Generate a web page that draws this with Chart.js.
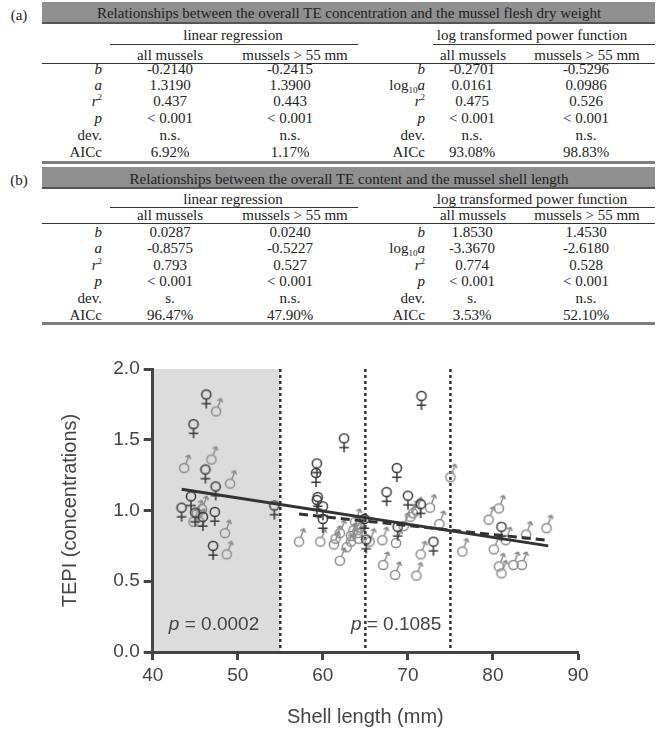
<!DOCTYPE html>
<html>
<head>
<meta charset="utf-8">
<script src="https://cdn.jsdelivr.net/npm/chart.js@4.4.1/dist/chart.umd.min.js"></script>
<style>
html, body { margin: 0; padding: 0; background: #fff; }
body { width: 658px; height: 733px; position: relative; overflow: hidden; }
.t { position: absolute; font-family: "Liberation Serif", "Times New Roman", serif; font-size: 15px; color: #222; white-space: nowrap; line-height: 1; }
.bar { position: absolute; left: 42px; width: 613px; background: #8f8f8f; border-bottom: 2px solid #555; }
.rule { position: absolute; background: #333; height: 1px; }
.thick { position: absolute; left: 42px; width: 613px; height: 3px; background: #7d7d7d; }
sup { font-size: 9px; vertical-align: 6px; line-height: 0; }
sub { font-size: 9px; vertical-align: -3px; line-height: 0; }
#plot { position: absolute; left: 0; top: 330px; width: 658px; height: 403px; }
</style>
</head>
<body>
<div id="tables"></div>
<div id="plot"><canvas id="tepiChart"></canvas></div>
<script>
// ==========================================
// TABLE DATA
// ==========================================

const rowLabelsLinear = ["<i>b</i>", "<i>a</i>", "<i>r</i><sup>2</sup>", "<i>p</i>", "dev.", "AICc"];
const rowLabelsPower = ["<i>b</i>", "log<sub>10</sub><i>a</i>", "<i>r</i><sup>2</sup>", "<i>p</i>", "dev.", "AICc"];
const columnHeaders = ["all mussels", "mussels &gt; 55 mm"];

const fleshLinearAll = ["-0.2140", "1.3190", "0.437", "&lt; 0.001", "n.s.", "6.92%"];
const fleshLinear55 = ["-0.2415", "1.3900", "0.443", "&lt; 0.001", "n.s.", "1.17%"];
const fleshPowerAll = ["-0.2701", "0.0161", "0.475", "&lt; 0.001", "n.s.", "93.08%"];
const fleshPower55 = ["-0.5296", "0.0986", "0.526", "&lt; 0.001", "n.s.", "98.83%"];

const shellLinearAll = ["0.0287", "-0.8575", "0.793", "&lt; 0.001", "s.", "96.47%"];
const shellLinear55 = ["0.0240", "-0.5227", "0.527", "&lt; 0.001", "n.s.", "47.90%"];
const shellPowerAll = ["1.8530", "-3.3670", "0.774", "&lt; 0.001", "s.", "3.53%"];
const shellPower55 = ["1.4530", "-2.6180", "0.528", "&lt; 0.001", "n.s.", "52.10%"];

// ==========================================
// PLOT DATA
// ==========================================

const femaleLength = [46.3, 44.8, 46.2, 47.4, 44.5, 43.4, 45.0, 45.9, 47.3, 47.1, 54.3,
    59.3, 59.2, 62.5, 59.4, 59.3, 60.0, 60.0, 64.9, 65.1,
    71.6, 68.7, 67.5, 70.0, 71.5, 68.8, 73.0, 81.0];
const femaleTepi = [1.82, 1.61, 1.29, 1.17, 1.10, 1.02, 0.985, 0.955, 0.99, 0.75, 1.035,
    1.333, 1.265, 1.51, 1.095, 1.075, 1.03, 0.94, 0.94, 0.795,
    1.81, 1.30, 1.13, 1.105, 1.045, 0.885, 0.78, 0.885];

const maleLength = [47.45, 43.7, 46.9, 49.1, 45.8, 44.8, 45.5, 45.2, 48.5, 48.7,
    57.2, 59.7, 61.3, 61.5, 62.0, 62.0, 62.8, 63.3, 63.3, 63.6, 64.1, 63.8, 64.4, 64.2, 65.5,
    67.0, 67.1, 68.5, 68.6, 69.5, 70.3, 70.6, 71.0, 71.0, 71.5, 72.6, 73.7, 75.0,
    76.4, 79.5, 80.7, 80.1, 81.5, 80.7, 81.0, 82.4, 83.4, 83.9, 86.3];
const maleTepi = [1.70, 1.30, 1.36, 1.19, 1.01, 0.92, 0.92, 0.98, 0.84, 0.69,
    0.78, 0.78, 0.76, 0.80, 0.645, 0.84, 0.74, 0.78, 0.82, 0.86, 0.84, 0.92, 0.88, 0.80, 0.78,
    0.79, 0.615, 0.545, 0.77, 0.89, 0.955, 0.98, 1.0, 0.54, 0.69, 1.02, 0.905, 1.235,
    0.71, 0.935, 1.015, 0.725, 0.79, 0.605, 0.556, 0.615, 0.615, 0.83, 0.875];

const fitAllLength = [43.4, 86.5];
const fitAllTepi = [1.15, 0.75];
const fit55Length = [57.2, 86.3];
const fit55Tepi = [0.975, 0.79];

const xTicks = [40, 50, 60, 70, 80, 90];
const yTicks = [0, 0.5, 1.0, 1.5, 2.0];
const sizeLimits = [55, 65, 75];
const pValueLength = [41.9, 63.3];
const pValueText = ["0.0002", "0.1085"];

// ==========================================
// TABLES
// ==========================================

const tables = document.getElementById("tables");

function place(html, x, y, align) {
    const d = document.createElement("div");
    d.className = "t";
    d.innerHTML = html;
    d.style.left = x + "px";
    d.style.top = y + "px";
    const tx = align === "right" ? "-100%" : (align === "left" ? "0" : "-50%");
    d.style.transform = "translate(" + tx + ",-50%)";
    tables.appendChild(d);
}

function box(cls, x, y, w, h) {
    const d = document.createElement("div");
    d.className = cls;
    if (x !== null) d.style.left = x + "px";
    d.style.top = y + "px";
    if (w !== null) d.style.width = w + "px";
    if (h !== null) d.style.height = h + "px";
    tables.appendChild(d);
}

function buildTable(t) {
    box("bar", null, t.barTop, null, t.barHeight);
    place(t.tag, 19, t.tagY, "center");
    place(t.title, 349, t.titleY, "center");

    place("linear regression", 233, t.groupY, "center");
    place("log transformed power function", 532, t.groupY, "center");
    box("rule", 110, t.groupRule, 248, null);
    box("rule", 433, t.groupRule, 222, null);

    place(columnHeaders[0], 170, t.colY, "center");
    place(columnHeaders[1], 295, t.colY, "center");
    place(columnHeaders[0], 473, t.colY, "center");
    place(columnHeaders[1], 587, t.colY, "center");
    box("rule", 42, t.colRule, 613, null);

    t.rows.forEach(function (y, i) {
        place(rowLabelsLinear[i], 102, y, "right");
        place(t.linAll[i], 170, y, "center");
        place(t.lin55[i], 290, y, "center");
        place(rowLabelsPower[i], 425, y, "right");
        place(t.powAll[i], 472, y, "center");
        place(t.pow55[i], 586, y, "center");
    });

    box("thick", null, t.bottom, null, null);
}

buildTable({
    tag: "(a)", tagY: 15,
    title: "Relationships between the overall TE concentration and the mussel flesh dry weight",
    barTop: 2, barHeight: 20, titleY: 13,
    groupY: 35, groupRule: 44, colY: 55, colRule: 63,
    rows: [68.5, 84.5, 101, 117.5, 134.5, 152],
    bottom: 161,
    linAll: fleshLinearAll, lin55: fleshLinear55, powAll: fleshPowerAll, pow55: fleshPower55
});

buildTable({
    tag: "(b)", tagY: 180,
    title: "Relationships between the overall TE content and the mussel shell length",
    barTop: 167, barHeight: 20, titleY: 178.5,
    groupY: 198.5, groupRule: 206.5, colY: 215, colRule: 223,
    rows: [232, 248, 264.5, 281, 297.5, 315],
    bottom: 322,
    linAll: shellLinearAll, lin55: shellLinear55, powAll: shellPowerAll, pow55: shellPower55
});

// ==========================================
// SYMBOLS
// ==========================================

function makeFemale() {
    const c = document.createElement("canvas");
    c.width = 40; c.height = 40;
    const g = c.getContext("2d");
    g.strokeStyle = "#383838";
    g.lineWidth = 1.5;
    g.beginPath();
    g.arc(20, 20, 4.6, 0, Math.PI * 2);
    g.stroke();
    g.beginPath();
    g.moveTo(20, 24.6); g.lineTo(20, 34);
    g.moveTo(15.3, 29.3); g.lineTo(24.7, 29.3);
    g.stroke();
    return c;
}

function makeMale() {
    const c = document.createElement("canvas");
    c.width = 40; c.height = 40;
    const g = c.getContext("2d");
    g.strokeStyle = "#8c8c8c";
    g.lineWidth = 1.5;
    g.beginPath();
    g.arc(20, 20, 4.6, 0, Math.PI * 2);
    g.stroke();
    const tx = 25, ty = 7;
    const len = Math.hypot(tx - 20, ty - 20);
    const dx = (tx - 20) / len, dy = (ty - 20) / len;
    g.beginPath();
    g.moveTo(20 + dx * 4.6, 20 + dy * 4.6);
    g.lineTo(tx, ty);
    [0.7, -0.7].forEach(function (a) {
        const bx = -dx * Math.cos(a) + dy * Math.sin(a);
        const by = -dy * Math.cos(a) - dx * Math.sin(a);
        g.moveTo(tx, ty);
        g.lineTo(tx + bx * 4.2, ty + by * 4.2);
    });
    g.stroke();
    return c;
}

function toPoints(xs, ys) {
    return xs.map(function (x, i) { return { x: x, y: ys[i] }; });
}

// ==========================================
// ZONES / DIVIDERS / P VALUES
// ==========================================

const zonesPlugin = {
    id: "zones",
    beforeDraw(chart) {
        const { ctx, scales: { x, y } } = chart;
        const l = x.getPixelForValue(40), r = x.getPixelForValue(sizeLimits[0]);
        const t = y.getPixelForValue(2), b = y.getPixelForValue(0);
        ctx.save();
        ctx.fillStyle = "#dcdcdc";
        ctx.fillRect(l, t, r - l, b - t);
        ctx.restore();
    },
    beforeDatasetsDraw(chart) {
        const { ctx, scales: { x, y } } = chart;
        ctx.save();
        ctx.strokeStyle = "#333";
        ctx.lineWidth = 2.5;
        ctx.setLineDash([3, 3]);
        sizeLimits.forEach(function (v) {
            const px = x.getPixelForValue(v);
            ctx.beginPath();
            ctx.moveTo(px, y.getPixelForValue(2));
            ctx.lineTo(px, y.getPixelForValue(0));
            ctx.stroke();
        });
        ctx.setLineDash([]);
        ctx.fillStyle = "#444";
        ctx.textBaseline = "middle";
        pValueLength.forEach(function (v, i) {
            let px = x.getPixelForValue(v);
            const py = y.getPixelForValue(0.19);
            ctx.font = "italic 19px 'Liberation Sans', Arial, sans-serif";
            ctx.fillText("p", px, py);
            px += ctx.measureText("p").width;
            ctx.font = "19px 'Liberation Sans', Arial, sans-serif";
            ctx.fillText(" = " + pValueText[i], px, py);
        });
        ctx.restore();
    }
};

// ==========================================
// CHART
// ==========================================

const axisColor = "#444";
const tickFont = { family: "'Liberation Sans', Arial, sans-serif", size: 19 };
const titleFont = { family: "'Liberation Sans', Arial, sans-serif", size: 20 };

new Chart(document.getElementById("tepiChart"), {
    type: "scatter",
    data: {
        datasets: [
            {
                type: "line",
                data: toPoints(fitAllLength, fitAllTepi),
                borderColor: "#333",
                borderWidth: 3,
                pointRadius: 0,
                fill: false
            },
            {
                type: "line",
                data: toPoints(fit55Length, fit55Tepi),
                borderColor: "#333",
                borderWidth: 3,
                borderDash: [9, 5],
                pointRadius: 0,
                fill: false
            },
            {
                data: toPoints(femaleLength, femaleTepi),
                pointStyle: makeFemale(),
                pointRadius: 6
            },
            {
                data: toPoints(maleLength, maleTepi),
                pointStyle: makeMale(),
                pointRadius: 6
            }
        ]
    },
    options: {
        responsive: true,
        maintainAspectRatio: false,
        animation: false,
        layout: { padding: { left: 0, right: 80, top: 39, bottom: 0 } },
        plugins: { legend: { display: false }, tooltip: { enabled: false } },
        scales: {
            x: {
                type: "linear",
                min: 40,
                max: 90,
                afterBuildTicks: function (scale) {
                    scale.ticks = xTicks.map(function (v) { return { value: v }; });
                },
                afterFit: function (scale) { scale.height = 81; },
                grid: { drawOnChartArea: false, drawTicks: true, tickLength: 8, tickWidth: 3, tickColor: axisColor },
                border: { color: axisColor, width: 3 },
                ticks: { color: "#444", font: tickFont, padding: 4, maxRotation: 0 },
                title: { display: true, text: "Shell length (mm)", color: "#444", font: titleFont, padding: { bottom: 4, top: 0 } }
            },
            y: {
                type: "linear",
                min: 0,
                max: 2,
                afterBuildTicks: function (scale) {
                    scale.ticks = yTicks.map(function (v) { return { value: v }; });
                },
                afterFit: function (scale) { scale.width = 152.7; },
                grid: { drawOnChartArea: false, drawTicks: true, tickLength: 9, tickWidth: 3, tickColor: axisColor },
                border: { color: axisColor, width: 3 },
                ticks: {
                    color: "#444",
                    font: tickFont,
                    padding: 4,
                    callback: function (value) { return value.toFixed(1); }
                },
                title: { display: true, text: "TEPI (concentrations)", color: "#444", font: titleFont, padding: { top: 58, bottom: 0 } }
            }
        }
    },
    plugins: [zonesPlugin]
});
</script>
</body>
</html>
